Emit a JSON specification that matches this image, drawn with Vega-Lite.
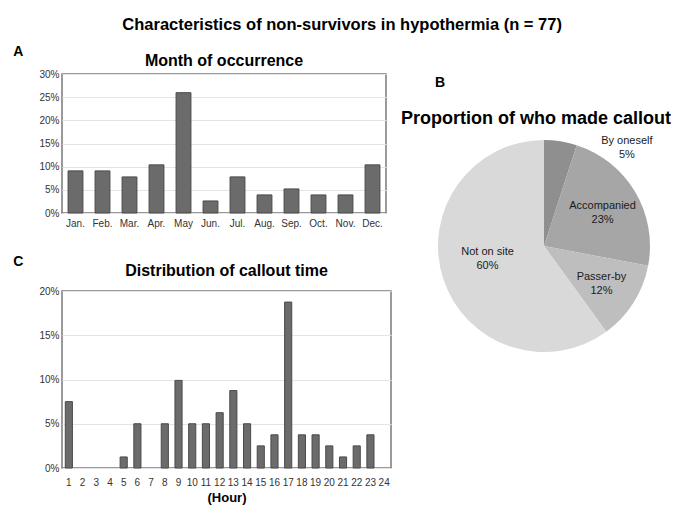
{
  "$schema": "https://vega.github.io/schema/vega-lite/v6.json",
  "background": "white",
  "padding": {"left": 13, "top": 16, "right": 0, "bottom": 0},
  "config": {
    "font": "Liberation Sans",
    "view": {"stroke": "#7a7a7a", "strokeWidth": 1.5},
    "axis": {"labelFont": "Liberation Sans", "labelColor": "#333333", "labelFontSize": 10, "ticks": false, "domain": false, "gridColor": "#e4e4e4", "gridWidth": 1},
    "title": {"font": "Liberation Sans", "fontWeight": "bold", "color": "#000000"}
  },
  "title": {"text": "Characteristics of non-survivors in hypothermia (n = 77)", "fontSize": 16.5, "anchor": "middle", "offset": 12},
  "spacing": 9,
  "hconcat": [
    {
      "spacing": 26,
      "vconcat": [
        {
          "title": {"text": "A", "anchor": "start", "fontSize": 14, "dx": -25, "dy": 7, "offset": 0},
          "vconcat": [
            {
              "title": {"text": "Month of occurrence", "fontSize": 16, "frame": "group", "offset": 0},
              "width": 324,
              "height": 139,
              "data": {"values": [
                {"month": "Jan.", "pct": 9.09},
                {"month": "Feb.", "pct": 9.09},
                {"month": "Mar.", "pct": 7.79},
                {"month": "Apr.", "pct": 10.39},
                {"month": "May", "pct": 25.97},
                {"month": "Jun.", "pct": 2.6},
                {"month": "Jul.", "pct": 7.79},
                {"month": "Aug.", "pct": 3.9},
                {"month": "Sep.", "pct": 5.19},
                {"month": "Oct.", "pct": 3.9},
                {"month": "Nov.", "pct": 3.9},
                {"month": "Dec.", "pct": 10.39}
              ]},
              "mark": {"type": "bar", "color": "#6b6b6b", "stroke": "#4a4a4a", "strokeWidth": 1},
              "encoding": {
                "x": {"field": "month", "type": "nominal", "sort": null, "scale": {"paddingInner": 0.45, "paddingOuter": 0.225}, "axis": {"title": null, "labelAngle": 0, "labelPadding": 5, "grid": false}},
                "y": {"field": "pct", "type": "quantitative", "scale": {"domain": [0, 30]}, "axis": {"title": null, "values": [0, 5, 10, 15, 20, 25, 30], "labelExpr": "datum.value + '%'", "labelPadding": 3, "grid": true}}
              }
            }
          ]
        },
        {
          "title": {"text": "C", "anchor": "start", "fontSize": 14, "dx": -25, "dy": 7, "offset": 0},
          "vconcat": [
            {
              "title": {"text": "Distribution of callout time", "fontSize": 16, "frame": "group", "offset": 7},
              "width": 329,
              "height": 177,
              "data": {"values": [
                {"hour": "1", "pct": 7.5},
                {"hour": "5", "pct": 1.25},
                {"hour": "6", "pct": 5},
                {"hour": "8", "pct": 5},
                {"hour": "9", "pct": 9.9},
                {"hour": "10", "pct": 5},
                {"hour": "11", "pct": 5},
                {"hour": "12", "pct": 6.25},
                {"hour": "13", "pct": 8.75},
                {"hour": "14", "pct": 5},
                {"hour": "15", "pct": 2.5},
                {"hour": "16", "pct": 3.75},
                {"hour": "17", "pct": 18.75},
                {"hour": "18", "pct": 3.75},
                {"hour": "19", "pct": 3.75},
                {"hour": "20", "pct": 2.5},
                {"hour": "21", "pct": 1.25},
                {"hour": "22", "pct": 2.5},
                {"hour": "23", "pct": 3.75}
              ]},
              "mark": {"type": "bar", "color": "#6b6b6b", "stroke": "#4a4a4a", "strokeWidth": 1},
              "encoding": {
                "x": {"field": "hour", "type": "ordinal", "sort": null, "scale": {"domain": ["1", "2", "3", "4", "5", "6", "7", "8", "9", "10", "11", "12", "13", "14", "15", "16", "17", "18", "19", "20", "21", "22", "23", "24"], "paddingInner": 0.48, "paddingOuter": 0.24}, "axis": {"title": "(Hour)", "titleFontSize": 13, "titleFontWeight": "bold", "titleColor": "#000000", "titlePadding": 4, "labelAngle": 0, "labelPadding": 9, "grid": false}},
                "y": {"field": "pct", "type": "quantitative", "scale": {"domain": [0, 20]}, "axis": {"title": null, "values": [0, 5, 10, 15, 20], "labelExpr": "datum.value + '%'", "labelPadding": 3, "grid": true}}
              }
            }
          ]
        }
      ]
    },
    {
      "spacing": 19,
      "vconcat": [
        {
          "title": {"text": "B", "orient": "bottom", "anchor": "start", "fontSize": 14, "dx": -3, "offset": 1},
          "width": 212,
          "height": 1,
          "view": {"stroke": null, "fill": null},
          "data": {"values": []},
          "mark": {"type": "point", "opacity": 0},
          "encoding": {}
        },
        {
          "title": {"text": "Proportion of who made callout", "fontSize": 18, "frame": "group", "dx": -8, "offset": 7},
          "width": 212,
          "height": 212,
          "view": {"stroke": null},
          "data": {"values": [
            {"who": "By oneself", "idx": 1, "pct": 5, "label": "By oneself\n5%"},
            {"who": "Accompanied", "idx": 2, "pct": 23, "label": "Accompanied\n23%"},
            {"who": "Passer-by", "idx": 3, "pct": 12, "label": "Passer-by\n12%"},
            {"who": "Not on site", "idx": 4, "pct": 60, "label": "Not on site\n60%"}
          ]},
          "layer": [
            {
              "mark": {"type": "arc", "outerRadius": 106},
              "encoding": {
                "theta": {"field": "pct", "type": "quantitative", "stack": true},
                "order": {"field": "idx", "type": "quantitative"},
                "color": {"field": "who", "type": "nominal", "legend": null, "scale": {"domain": ["By oneself", "Accompanied", "Passer-by", "Not on site"], "range": ["#8f8f8f", "#a6a6a6", "#bebebe", "#d9d9d9"]}}
              }
            },
            {
              "mark": {"type": "text", "radius": 68, "dy": -5, "fontSize": 11, "lineBreak": "\n", "lineHeight": 14, "color": "#1a1a1a"},
              "encoding": {
                "theta": {"field": "pct", "type": "quantitative", "stack": true},
                "order": {"field": "idx", "type": "quantitative"},
                "text": {"field": "label", "type": "nominal"},
                "opacity": {"condition": {"test": "datum.who == 'By oneself' || datum.who == 'Not on site'", "value": 0}, "value": 1}
              }
            },
            {
              "transform": [{"filter": "datum.who == 'Not on site'"}],
              "mark": {"type": "text", "radius": 57.5, "dy": -5, "fontSize": 11, "lineBreak": "\n", "lineHeight": 14, "color": "#1a1a1a"},
              "encoding": {
                "theta": {"datum": 72, "type": "quantitative"},
                "text": {"field": "label", "type": "nominal"}
              }
            },
            {
              "transform": [{"filter": "datum.who == 'By oneself'"}],
              "mark": {"type": "text", "radius": 130, "dy": -5, "fontSize": 11, "lineBreak": "\n", "lineHeight": 14, "color": "#1a1a1a"},
              "encoding": {
                "theta": {"datum": 11, "type": "quantitative"},
                "text": {"field": "label", "type": "nominal"}
              }
            }
          ]
        }
      ]
    }
  ]
}
